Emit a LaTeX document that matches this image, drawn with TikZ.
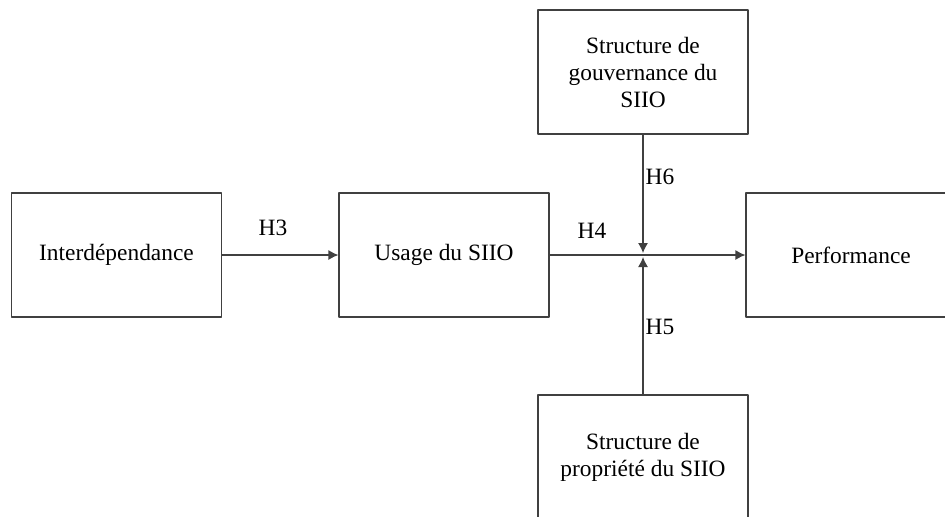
\documentclass[tikz,border=0pt]{standalone}
\usepackage{fontspec}
\setmainfont{Liberation Serif}
\usetikzlibrary{arrows.meta}
\begin{document}
\begin{tikzpicture}[x=.5pt, y=-.5pt, font=\fontsize{11.7}{13.5}\selectfont, line join=round, >={Latex[length=5pt,width=5pt]},
	bloc/.style={draw=black!75, line width=.6pt, minimum width=105pt, minimum height=62pt, align=center, inner sep=0pt},
	fleche/.style={->, draw=black!75, line width=.6pt}]
	\clip (0,0) rectangle (945,516);
	\node[bloc] (interd) at (116.5,255) {Interdépendance};
	\node[bloc] (usage) at (444,255) {Usage du SIIO};
	\node[bloc] (perf) at (851,255) {Performance};
	\node[bloc] (gouv) at (643,72) {Structure de\\gouvernance du\\SIIO};
	\node[bloc] (prop) at (643,457) {Structure de\\propriété du SIIO};
	\coordinate (croix) at (gouv.south |- usage.east);
	\draw[fleche] (interd) -- (usage);
	\draw[fleche] (usage) -- (perf);
	\draw[fleche, shorten >=1pt] (gouv) -- (croix);
	\draw[fleche, shorten >=1pt] (prop) -- (croix);
	\node (h3) at (273,228) {H3};
	\node (h4) at (592,231) {H4};
	\node (h6) at (660,177) {H6};
	\node (h5) at (660,327) {H5};
\end{tikzpicture}
\end{document}
